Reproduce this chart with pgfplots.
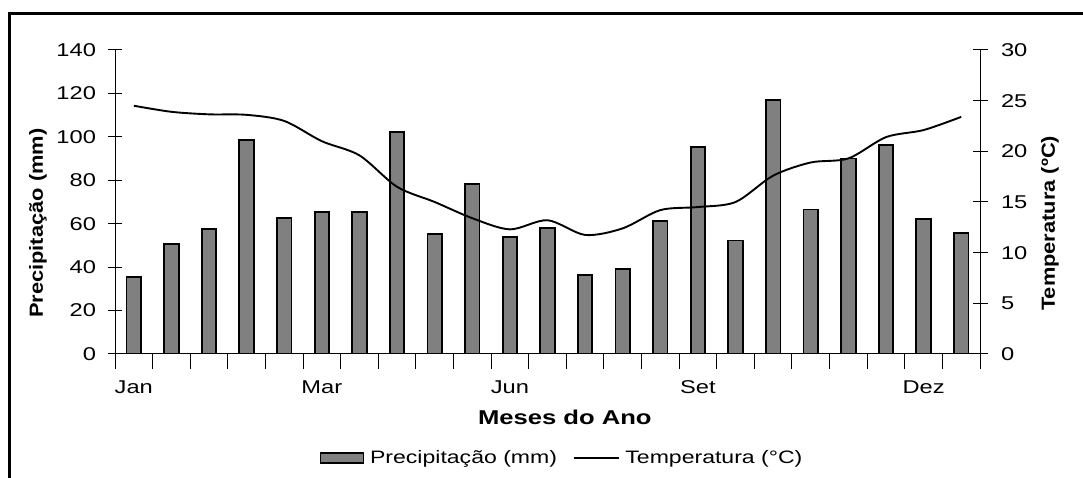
\documentclass[border=0pt]{standalone}
\usepackage{pgfplots}
\pgfplotsset{compat=1.18}
\usepackage{pgfplotstable}
\usepackage{fontspec}
\setmainfont{Liberation Sans}[FakeStretch=1.28]
\newfontfamily\rotfont{Liberation Sans}[FakeStretch=1.15]
\definecolor{barg}{RGB}{128,128,128}

\pgfplotstableread{
x p
0 35.3
1 50.8
2 57.6
3 98.6
4 62.5
5 65.5
6 65.5
7 102.1
8 55.1
9 78.3
10 53.7
11 58.2
12 36.2
13 39.3
14 61.3
15 95.3
16 52.3
17 116.8
18 66.5
19 90.0
20 96.3
21 62.2
22 55.9
}\precip

\pgfplotstableread{
x t
0 24.5
1 23.9
2 23.65
3 23.6
4 23.0
5 21.0
6 19.6
7 16.5
8 15.0
9 13.4
10 12.3
11 13.2
12 11.75
13 12.4
14 14.2
15 14.5
16 15.0
17 17.6
18 18.9
19 19.3
20 21.4
21 22.1
22 23.4
}\temp

\begin{document}
\begin{tikzpicture}
\path[use as bounding box] (0pt,0pt) rectangle (1083pt,478pt);
\draw[line width=3pt] (9pt,-20pt) -- (9pt,464.3pt) -- (1100pt,464.3pt);

\begin{axis}[
  at={(115pt,124pt)}, anchor=south west,
  scale only axis, width=865pt, height=304pt,
  xmin=-0.5, xmax=22.5, ymin=0, ymax=140,
  axis x line*=bottom, axis y line*=left,
  axis line style={-, line width=1pt, black},
  tick align=center, major tick length=15pt,
  every tick/.style={line width=1pt, black},
  xtick={-0.5,0.5,...,22.5}, xticklabels={},
  extra x ticks={0,5,10,15,21},
  extra x tick labels={Jan,Mar,Jun,Set,Dez},
  extra x tick style={major tick length=0pt, xticklabel style={anchor=base, yshift=-40pt}},
  ytick={0,20,...,140},
  /pgf/number format/assume math mode=true,
  tick label style={font=\fontsize{18.5}{22}\selectfont},
  yticklabel style={anchor=east, xshift=-8pt},
  ylabel={Precipitação (mm)},
  ylabel style={font=\rotfont\bfseries\fontsize{19}{22}\selectfont, at={(axis description cs:-0.089,0.43)}, anchor=center},
  xlabel={Meses do Ano},
  xlabel style={font=\bfseries\fontsize{20}{24}\selectfont, at={(axis description cs:0.52,-0.207)}, anchor=center},
  ybar, bar width=14.5pt,
]
\addplot[fill=barg, draw=black, line width=1.8pt, bar shift=0pt] table[x=x,y=p]{\precip};
\end{axis}

\begin{axis}[
  at={(115pt,124pt)}, anchor=south west,
  scale only axis, width=865pt, height=304pt,
  xmin=-0.5, xmax=22.5, ymin=0, ymax=30,
  axis x line=none, axis y line*=right,
  axis line style={-, line width=1pt, black},
  tick align=center, major tick length=15pt,
  every tick/.style={line width=1pt, black},
  ytick={0,5,...,30},
  /pgf/number format/assume math mode=true,
  tick label style={font=\fontsize{18.5}{22}\selectfont},
  yticklabel style={anchor=west, xshift=10pt},
  ylabel={Temperatura (ºC)},
  ylabel style={font=\rotfont\bfseries\fontsize{19}{22}\selectfont, at={(axis description cs:1.081,0.43)}, anchor=center},
  legend style={draw=none, fill=none, at={(axis description cs:0.519,-0.342)}, anchor=center,
    font=\fontsize{18}{22}\selectfont, legend columns=2,
    nodes={inner xsep=6pt},
    /tikz/every even column/.append style={column sep=10pt}},
]
\addlegendimage{legend image code/.code={\draw[fill=barg, draw=black, line width=1.6pt] (0pt,-5pt) rectangle (43pt,5pt);}}
\addlegendentry{Precipitação (mm)}
\addplot[black, line width=1.9pt, smooth, legend image code/.code={\draw[black, line width=1.4pt] (0pt,0pt) -- (45pt,0pt);}] table[x=x,y=t]{\temp};
\addlegendentry{Temperatura (°C)}
\end{axis}
\end{tikzpicture}
\end{document}
